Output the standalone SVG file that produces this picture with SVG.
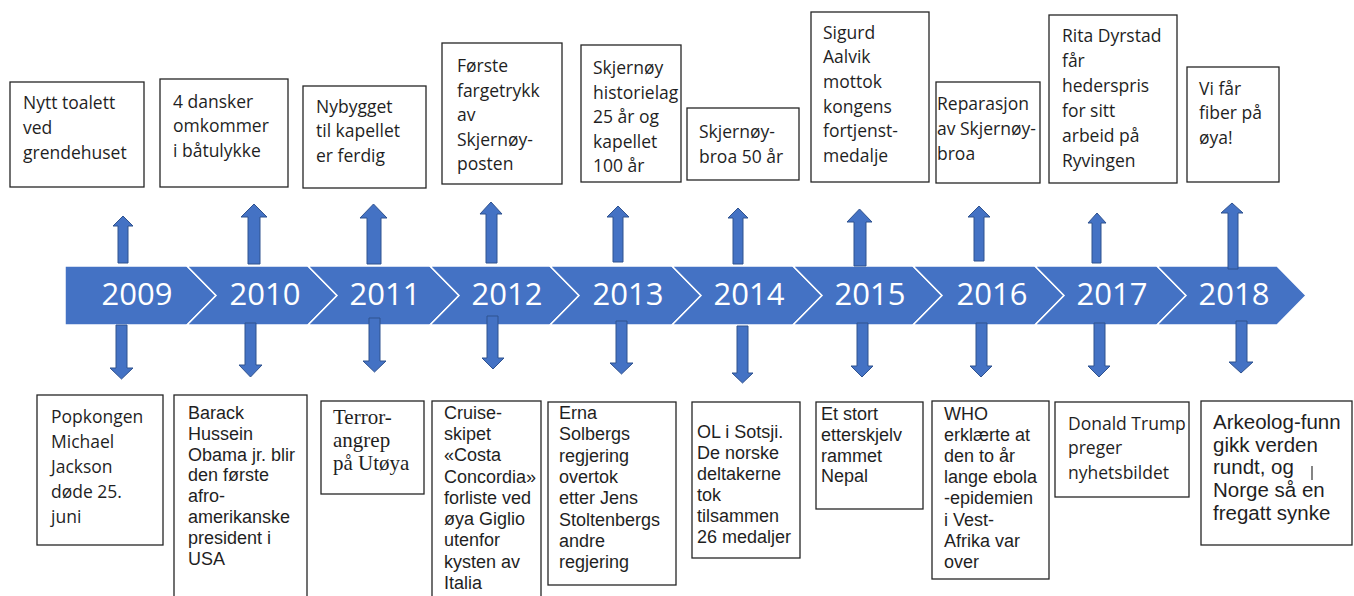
<svg xmlns="http://www.w3.org/2000/svg" width="1354" height="596" viewBox="0 0 1354 596">
<style>
.box{fill:#fff;stroke:#262626;stroke-width:1.3}
.cal{font-family:"Open Sans","Liberation Sans",sans-serif;font-size:17.5px;fill:#1f1f1f}
.ari{font-family:"Liberation Sans",Arial,sans-serif;font-size:18px;fill:#1f1f1f}
.tim{font-family:"Liberation Serif","Times New Roman",serif;font-size:21px;fill:#1f1f1f}
.chev{fill:#4472C4;stroke:#fff;stroke-width:1.5;stroke-linejoin:miter}
.yr{font-family:"Open Sans","Liberation Sans",sans-serif;font-size:31px;fill:#fff;text-anchor:middle}
.arr{fill:#4472C4;stroke:#2F528F;stroke-width:1}
</style>
<rect width="1354" height="596" fill="#fff"/>

<g id="timeline">
<g id="y2009"><polygon class="chev" points="65,266 187,266 216,295.5 187,325 65,325"/><text class="yr" x="137" y="305">2009</text></g>
<g id="y2010"><polygon class="chev" points="187,266 308,266 337,295.5 308,325 187,325 216,295.5"/><text class="yr" x="265" y="305">2010</text></g>
<g id="y2011"><polygon class="chev" points="308,266 430,266 459,295.5 430,325 308,325 337,295.5"/><text class="yr" x="385" y="305">2011</text></g>
<g id="y2012"><polygon class="chev" points="430,266 550,266 579,295.5 550,325 430,325 459,295.5"/><text class="yr" x="507" y="305">2012</text></g>
<g id="y2013"><polygon class="chev" points="550,266 672,266 701,295.5 672,325 550,325 579,295.5"/><text class="yr" x="628" y="305">2013</text></g>
<g id="y2014"><polygon class="chev" points="672,266 793,266 822,295.5 793,325 672,325 701,295.5"/><text class="yr" x="749" y="305">2014</text></g>
<g id="y2015"><polygon class="chev" points="793,266 913,266 942,295.5 913,325 793,325 822,295.5"/><text class="yr" x="870" y="305">2015</text></g>
<g id="y2016"><polygon class="chev" points="913,266 1035,266 1064,295.5 1035,325 913,325 942,295.5"/><text class="yr" x="992" y="305">2016</text></g>
<g id="y2017"><polygon class="chev" points="1035,266 1157,266 1186,295.5 1157,325 1035,325 1064,295.5"/><text class="yr" x="1112" y="305">2017</text></g>
<g id="y2018"><polygon class="chev" points="1157,266 1277,266 1306,295.5 1277,325 1157,325 1186,295.5"/><text class="yr" x="1234" y="305">2018</text></g>
</g>

<g id="connectors">
<path class="arr" d="M123,216 L133,226 L128,226 L128,263 L118,263 L118,226 L113,226 Z"/>
<path class="arr" d="M254,204 L267,217 L260,217 L260,264 L248,264 L248,217 L241,217 Z"/>
<path class="arr" d="M373.5,204 L387,218 L381,218 L381,264 L367,264 L367,218 L360,218 Z"/>
<path class="arr" d="M491,202 L502,214 L497,214 L497,263 L486,263 L486,214 L480,214 Z"/>
<path class="arr" d="M618,206 L629,217 L623,217 L623,262 L613,262 L613,217 L607,217 Z"/>
<path class="arr" d="M738,208 L748,218 L743,218 L743,264 L733,264 L733,218 L728,218 Z"/>
<path class="arr" d="M859.5,209 L872,222 L866,222 L866,266 L854,266 L854,222 L847,222 Z"/>
<path class="arr" d="M979,206 L990,217 L984,217 L984,261 L974,261 L974,217 L968,217 Z"/>
<path class="arr" d="M1097,213 L1106,223 L1101,223 L1101,263 L1092,263 L1092,223 L1088,223 Z"/>
<path class="arr" d="M1232,203 L1243,213 L1238,213 L1238,269 L1228,269 L1228,213 L1221,213 Z"/>

<path class="arr" d="M116,325 L127,325 L127,368 L133,368 L121.5,379 L110,368 L116,368 Z"/>
<path class="arr" d="M245,323 L256,323 L256,365 L262,365 L250.5,377 L239,365 L245,365 Z"/>
<path class="arr" d="M369,318 L380,318 L380,361 L386,361 L374.5,372 L363,361 L369,361 Z"/>
<path class="arr" d="M487,316 L498,316 L498,358 L504,358 L493,369 L482,358 L487,358 Z"/>
<path class="arr" d="M616,321 L627,321 L627,363 L633,363 L621.5,374 L610,363 L616,363 Z"/>
<path class="arr" d="M737,326 L748,326 L748,373 L753,373 L742.5,383 L732,373 L737,373 Z"/>
<path class="arr" d="M857,323 L868,323 L868,366 L873,366 L862,377 L851,366 L857,366 Z"/>
<path class="arr" d="M976,323 L987,323 L987,366 L992,366 L981,377 L970,366 L976,366 Z"/>
<path class="arr" d="M1094,323 L1105,323 L1105,366 L1110,366 L1099,377 L1088,366 L1094,366 Z"/>
<path class="arr" d="M1236,321 L1247,321 L1247,362 L1253,362 L1241,373 L1229,362 L1236,362 Z"/>
</g>

<g id="t2009"><rect class="box" x="10" y="82" width="134" height="105"/>
<text class="cal"><tspan x="23" y="109">Nytt toalett</tspan><tspan x="23" y="134">ved</tspan><tspan x="23" y="159">grendehuset</tspan></text></g>
<g id="t2010"><rect class="box" x="160" y="79" width="128" height="108"/>
<text class="cal"><tspan x="173" y="107.5">4 dansker</tspan><tspan x="173" y="132">omkommer</tspan><tspan x="173" y="157">i båtulykke</tspan></text></g>
<g id="t2011"><rect class="box" x="303" y="86" width="123" height="102"/>
<text class="cal"><tspan x="316" y="112.5">Nybygget</tspan><tspan x="316" y="137">til kapellet</tspan><tspan x="316" y="162">er ferdig</tspan></text></g>
<g id="t2012"><rect class="box" x="442" y="43" width="120" height="141"/>
<text class="cal"><tspan x="457" y="72">Første</tspan><tspan x="457" y="96.5">fargetrykk</tspan><tspan x="457" y="121">av</tspan><tspan x="457" y="145.5">Skjernøy-</tspan><tspan x="457" y="170">posten</tspan></text></g>
<g id="t2013"><rect class="box" x="581" y="45" width="100" height="137"/>
<text class="cal"><tspan x="593" y="74">Skjernøy</tspan><tspan x="593" y="98.5">historielag</tspan><tspan x="593" y="123">25 år og</tspan><tspan x="593" y="147.5">kapellet</tspan><tspan x="593" y="172">100 år</tspan></text></g>
<g id="t2014"><rect class="box" x="687" y="108" width="112" height="72"/>
<text class="cal"><tspan x="699" y="138">Skjernøy-</tspan><tspan x="699" y="162.5">broa 50 år</tspan></text></g>
<g id="t2015"><rect class="box" x="811" y="12" width="118" height="170"/>
<text class="cal"><tspan x="823" y="38.5">Sigurd</tspan><tspan x="823" y="63">Aalvik</tspan><tspan x="823" y="88">mottok</tspan><tspan x="823" y="112.5">kongens</tspan><tspan x="823" y="137">fortjenst-</tspan><tspan x="823" y="162">medalje</tspan></text></g>
<g id="t2016"><rect class="box" x="936" y="82" width="104" height="101"/>
<text class="cal"><tspan x="937" y="110">Reparasjon</tspan><tspan x="937" y="135">av Skjernøy-</tspan><tspan x="937" y="160">broa</tspan></text></g>
<g id="t2017"><rect class="box" x="1049" y="15" width="128" height="168"/>
<text class="cal"><tspan x="1062" y="42">Rita Dyrstad</tspan><tspan x="1062" y="67">får</tspan><tspan x="1062" y="92">hederspris</tspan><tspan x="1062" y="117">for sitt</tspan><tspan x="1062" y="142">arbeid på</tspan><tspan x="1062" y="167">Ryvingen</tspan></text></g>
<g id="t2018"><rect class="box" x="1187" y="67" width="92" height="115"/>
<text class="cal"><tspan x="1199" y="94.5">Vi får</tspan><tspan x="1199" y="119">fiber på</tspan><tspan x="1199" y="144">øya!</tspan></text></g>

<g id="b2009"><rect class="box" x="37" y="395" width="126" height="150"/>
<text class="cal"><tspan x="51" y="422.5">Popkongen</tspan><tspan x="51" y="447.5">Michael</tspan><tspan x="51" y="472.5">Jackson</tspan><tspan x="51" y="497.5">døde 25.</tspan><tspan x="51" y="522.5">juni</tspan></text></g>
<g id="b2010"><rect class="box" x="174" y="395" width="133" height="210"/>
<text class="ari"><tspan x="188" y="419">Barack</tspan><tspan x="188" y="439.8">Hussein</tspan><tspan x="188" y="460.6">Obama jr. blir</tspan><tspan x="188" y="481.4">den første</tspan><tspan x="188" y="502.2">afro-</tspan><tspan x="188" y="523">amerikanske</tspan><tspan x="188" y="543.8">president i</tspan><tspan x="188" y="564.6">USA</tspan></text></g>
<g id="b2011"><rect class="box" x="321" y="401" width="103" height="93"/>
<text class="tim"><tspan x="333" y="424">Terror-</tspan><tspan x="333" y="447">angrep</tspan><tspan x="333" y="470">på Utøya</tspan></text></g>
<g id="b2012"><rect class="box" x="432" y="401" width="109" height="205"/>
<text class="ari"><tspan x="444" y="418.6">Cruise-</tspan><tspan x="444" y="439.9">skipet</tspan><tspan x="444" y="461.2">«Costa</tspan><tspan x="444" y="482.5">Concordia»</tspan><tspan x="444" y="503.8">forliste ved</tspan><tspan x="444" y="525.1">øya Giglio</tspan><tspan x="444" y="546.4">utenfor</tspan><tspan x="444" y="567.7">kysten av</tspan><tspan x="444" y="589">Italia</tspan></text></g>
<g id="b2013"><rect class="box" x="548" y="402" width="128" height="183"/>
<text class="ari"><tspan x="559" y="419">Erna</tspan><tspan x="559" y="440.3">Solbergs</tspan><tspan x="559" y="461.6">regjering</tspan><tspan x="559" y="482.9">overtok</tspan><tspan x="559" y="504.2">etter Jens</tspan><tspan x="559" y="525.5">Stoltenbergs</tspan><tspan x="559" y="546.8">andre</tspan><tspan x="559" y="568.1">regjering</tspan></text></g>
<g id="b2014"><rect class="box" x="692" y="402" width="108" height="156"/>
<text class="ari"><tspan x="697" y="438">OL i Sotsji.</tspan><tspan x="697" y="459">De norske</tspan><tspan x="697" y="480">deltakerne</tspan><tspan x="697" y="501">tok</tspan><tspan x="697" y="522">tilsammen</tspan><tspan x="697" y="543">26 medaljer</tspan></text></g>
<g id="b2015"><rect class="box" x="816" y="402" width="107" height="107"/>
<text class="ari"><tspan x="821" y="420">Et stort</tspan><tspan x="821" y="441">etterskjelv</tspan><tspan x="821" y="461.5">rammet</tspan><tspan x="821" y="482">Nepal</tspan></text></g>
<g id="b2016"><rect class="box" x="932" y="401" width="117" height="178"/>
<text class="ari"><tspan x="944" y="419.6">WHO</tspan><tspan x="944" y="440.8">erklærte at</tspan><tspan x="944" y="462">den to år</tspan><tspan x="944" y="483.2">lange ebola</tspan><tspan x="944" y="504.4">-epidemien</tspan><tspan x="944" y="525.6">i Vest-</tspan><tspan x="944" y="546.8">Afrika var</tspan><tspan x="944" y="568">over</tspan></text></g>
<g id="b2017"><rect class="box" x="1055" y="402" width="134" height="95"/>
<text class="cal"><tspan x="1068" y="429.5">Donald Trump</tspan><tspan x="1068" y="454">preger</tspan><tspan x="1068" y="478.5">nyhetsbildet</tspan></text></g>
<g id="b2018"><rect class="box" x="1201" y="401" width="151" height="144"/>
<text class="ari" style="font-size:20.5px"><tspan x="1213" y="428.7">Arkeolog-funn</tspan><tspan x="1213" y="451.5">gikk verden</tspan><tspan x="1213" y="474.3">rundt, og</tspan><tspan x="1213" y="497.1">Norge så en</tspan><tspan x="1213" y="520">fregatt synke</tspan></text>
<line x1="1312" y1="466" x2="1312" y2="480" stroke="#333" stroke-width="1.2"/></g>
</svg>
